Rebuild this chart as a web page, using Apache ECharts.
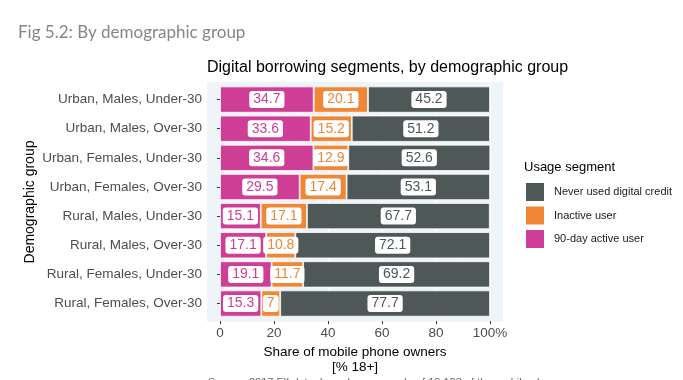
<!DOCTYPE html>
<html><head><meta charset="utf-8">
<script src="https://cdn.jsdelivr.net/npm/echarts@6/dist/echarts.min.js"></script>
<style>html,body{margin:0;padding:0;background:#fff}#c{width:683px;height:380px}</style>
</head><body><div id="c"></div>
<script>
const categories = ["Urban, Males, Under-30","Urban, Males, Over-30","Urban, Females, Under-30","Urban, Females, Over-30","Rural, Males, Under-30","Rural, Males, Over-30","Rural, Females, Under-30","Rural, Females, Over-30"];
const activeUser = [34.7, 33.6, 34.6, 29.5, 15.1, 17.1, 19.1, 15.3];
const inactiveUser = [20.1, 15.2, 12.9, 17.4, 17.1, 10.8, 11.7, 7];
const neverUsed = [45.2, 51.2, 52.6, 53.1, 67.7, 72.1, 69.2, 77.7];
const xTicks = [0, 20, 40, 60, 80, 100];
const seriesNames = ["90-day active user", "Inactive user", "Never used digital credit"];
const colors = ["#CF3E96", "#EF8737", "#4E5857"];

const chart = echarts.init(document.getElementById('c'));
const FONT = "'Liberation Sans', Arial, sans-serif";
function mk(name, data, color) {
  return {
    name: name, type: 'bar', stack: 'all', data: data, barWidth: '90%',
    itemStyle: { color: color, borderColor: '#ffffff', borderWidth: 0.8 },
    label: {
      show: true, position: 'inside', color: color, fontFamily: FONT, fontSize: 14,
      backgroundColor: '#ffffff', borderRadius: 3, padding: [2, 4, 1, 4],
      formatter: p => String(p.value)
    }
  };
}
chart.setOption({
  animation: false,
  backgroundColor: '#ffffff',
  graphic: [
    { type: 'rect', z: -10, shape: { x: 207, y: 82, width: 296, height: 240 }, style: { fill: '#EEF4F8' } },
    { type: 'text', x: 18, y: 33, style: { text: 'Fig 5.2: By demographic group', font: "17px Lato, 'Open Sans', sans-serif", fill: '#858585', verticalAlign: 'middle' } },
    { type: 'text', x: 207, y: 68, style: { text: 'Digital borrowing segments, by demographic group', font: "16px " + FONT, fill: '#000', verticalAlign: 'middle' } },
    { type: 'text', x: 524, y: 167, style: { text: 'Usage segment', font: "13px " + FONT, fill: '#000', verticalAlign: 'middle' } },
    { type: 'text', x: 30, y: 202, rotation: Math.PI / 2, style: { text: 'Demographic group', font: "14px " + FONT, fill: '#000', align: 'center', verticalAlign: 'middle' } },
    { type: 'text', x: 208, y: 377, style: { text: 'Source: 2017 FII data; based on a sample of 10,123 of the mobile phone owners', font: "11px " + FONT, fill: '#666', verticalAlign: 'top' } }
  ],
  legend: {
    orient: 'vertical', left: 524, top: 181, itemWidth: 20, itemHeight: 20, itemGap: 1.5, padding: 0,
    icon: 'rect', data: [seriesNames[2], seriesNames[1], seriesNames[0]],
    textStyle: { fontFamily: FONT, fontSize: 11, color: '#1a1a1a', padding: [0, 0, 0, 4] },
    selectedMode: false
  },
  grid: { left: 220, right: 193, top: 85, bottom: 61, containLabel: false },
  xAxis: {
    type: 'value', min: 0, max: 100, interval: 20, offset: 3,
    axisLine: { show: false },
    axisTick: { show: true, length: 3, lineStyle: { color: '#333' } },
    axisLabel: { fontFamily: FONT, fontSize: 13.5, color: '#4d4d4d', margin: 5, formatter: v => (xTicks.indexOf(v) >= 0 ? (v === 100 ? '100%' : String(v)) : '') },
    splitLine: { show: true, lineStyle: { color: '#ffffff', width: 1 } },
    minorTick: { show: false, splitNumber: 2 },
    minorSplitLine: { show: true, lineStyle: { color: '#ffffff', width: 0.5 } },
    name: 'Share of mobile phone owners\n[% 18+]', nameLocation: 'middle', nameGap: 20,
    nameTextStyle: { fontFamily: FONT, fontSize: 13.5, color: '#000', lineHeight: 15 }
  },
  yAxis: {
    type: 'category', data: categories, inverse: true, offset: 13,
    axisLine: { show: false },
    axisTick: { show: true, length: 3, alignWithLabel: true, lineStyle: { color: '#333' } },
    axisLabel: { fontFamily: FONT, fontSize: 13.5, color: '#4d4d4d', margin: 5 },
    splitLine: { show: false }
  },
  series: [mk(seriesNames[0], activeUser, colors[0]), mk(seriesNames[1], inactiveUser, colors[1]), mk(seriesNames[2], neverUsed, colors[2])]
});
</script></body></html>
